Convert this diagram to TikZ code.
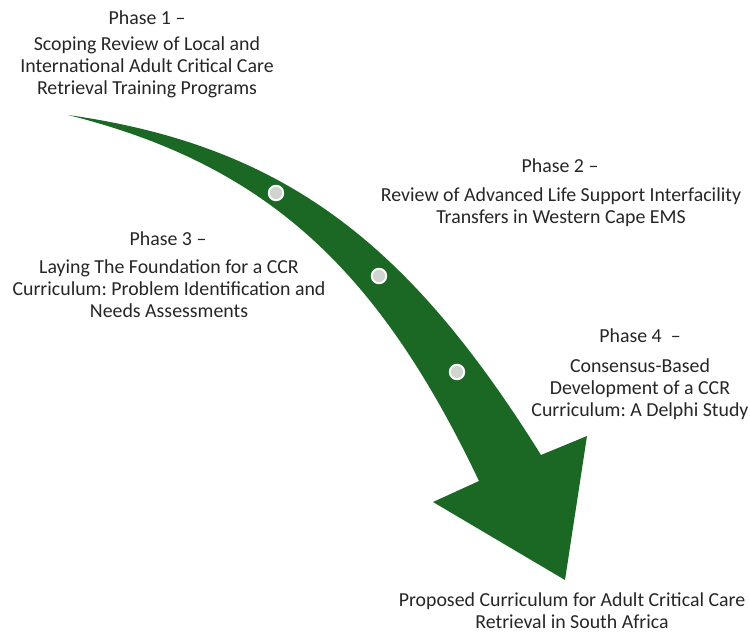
\documentclass[tikz,border=0pt]{standalone}
\usepackage{fontspec}
\setmainfont{Carlito}
\definecolor{arrowgreen}{RGB}{27,104,36}
\definecolor{dotgrey}{RGB}{207,212,206}
\definecolor{textgrey}{RGB}{38,38,38}

\begin{document}
\begin{tikzpicture}[x=0.02cm,y=-0.02cm]
            \tikzstyle{every node}+=[inner sep=0pt, text=textgrey, font=\fontsize{11.3}{12.6}\selectfont\frenchspacing]
            \tikzstyle{phasetext}=[align=center]
            \tikzstyle{dot}=[circle, fill=dotgrey, draw=white, line width=1.1pt, minimum size=0.29cm]
            \useasboundingbox (0,0) rectangle (750,632);
            % curved arrow
            \coordinate (tail) at (68,115);
            \coordinate (neckR) at (541,455);
            \coordinate (barbR) at (587,436);
            \coordinate (tip) at (565,580);
            \coordinate (barbL) at (433,502);
            \coordinate (neckL) at (479,481);
            \fill [arrowgreen] (tail) .. controls (288,146) and (411,247) .. (neckR)
              -- (barbR) -- (tip) -- (barbL) -- (neckL)
              .. controls (379,271) and (268,165) .. (tail) -- cycle;
            \node [dot] (dot1) at (276,193) {};
            \node [dot] (dot2) at (379,276) {};
            \node [dot] (dot3) at (457,372) {};
            % phase labels
            \node [phasetext] (phase1) at (147,18) {Phase 1 –};
            \node [phasetext] (study1) at (147,67) {Scoping Review of Local and\\International Adult Critical Care\\Retrieval Training Programs};
            \node [phasetext] (phase2) at (560,166) {Phase 2 –};
            \node [phasetext] (study2) at (561,207) {Review of Advanced Life Support Interfacility\\Transfers in Western Cape EMS};
            \node [phasetext] (phase3) at (168,239) {Phase 3 –};
            \node [phasetext] (study3) at (169,289) {Laying The Foundation for a CCR\\Curriculum: Problem Identification and\\Needs Assessments};
            \node [phasetext] (phase4) at (640,336) {Phase 4\ \ –};
            \node [phasetext] (study4) at (640,389) {Consensus-Based\\Development of a CCR\\Curriculum: A Delphi Study};
            \node [phasetext] (outcome) at (572,611) {Proposed Curriculum for Adult Critical Care\\Retrieval in South Africa};
\end{tikzpicture}
\end{document}
